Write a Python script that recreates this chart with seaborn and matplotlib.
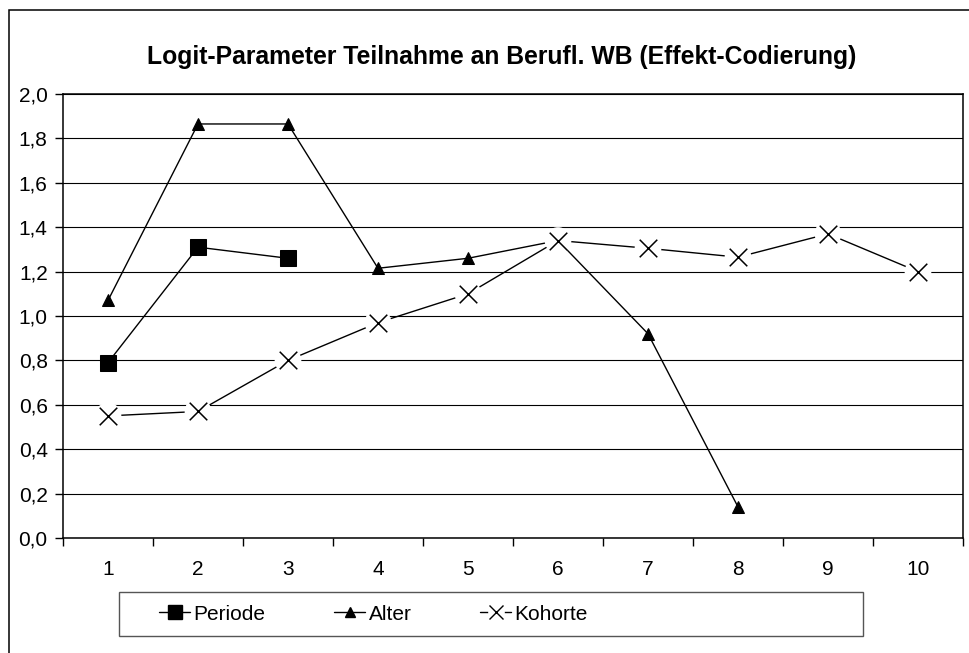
import matplotlib
matplotlib.use("Agg")
import matplotlib.pyplot as plt
from matplotlib.patches import Rectangle
from matplotlib.lines import Line2D
from matplotlib.ticker import FixedLocator, FuncFormatter
import seaborn as sns
import pandas as pd

# ---- data ----
categories = [1, 2, 3, 4, 5, 6, 7, 8, 9, 10]
periode_x = [1, 2, 3]
periode = [0.79, 1.31, 1.26]
alter_x = [1, 2, 3, 4, 5, 6, 7, 8]
alter = [1.07, 1.865, 1.865, 1.215, 1.26, 1.34, 0.92, 0.14]
kohorte_x = categories
kohorte = [0.55, 0.57, 0.80, 0.97, 1.10, 1.34, 1.305, 1.265, 1.37, 1.20]
y_ticks = [0.0, 0.2, 0.4, 0.6, 0.8, 1.0, 1.2, 1.4, 1.6, 1.8, 2.0]
series_names = ["Periode", "Alter", "Kohorte"]
title = "Logit-Parameter Teilnahme an Berufl. WB (Effekt-Codierung)"

sns.set_theme(style="white")
plt.rcParams['font.family'] = ['Liberation Sans', 'DejaVu Sans']

W, H = 970, 653
fig = plt.figure(figsize=(W / 100, H / 100), dpi=100)
fig.patch.set_facecolor("white")
ax = fig.add_axes([63 / W, 1 - 538 / H, 900 / W, 444 / H])
ax.set_facecolor("white")

# outer border
fig.patches.append(Rectangle((9 / W, -0.05), 1.2, 1 - 10 / H + 0.05,
                             transform=fig.transFigure, fill=False,
                             edgecolor="black", linewidth=1.1, zorder=0))

df_p = pd.DataFrame({"x": periode_x, "y": periode})
df_a = pd.DataFrame({"x": alter_x, "y": alter})
df_k = pd.DataFrame({"x": kohorte_x, "y": kohorte})

LW = 1.0
sns.lineplot(data=df_p, x="x", y="y", ax=ax, color="black", linewidth=LW,
             marker="s", markersize=12, markeredgecolor="black",
             markerfacecolor="black", zorder=3)
sns.lineplot(data=df_a, x="x", y="y", ax=ax, color="black", linewidth=LW,
             marker="^", markersize=8, markeredgecolor="black",
             markerfacecolor="black", zorder=3)
sns.lineplot(data=df_k, x="x", y="y", ax=ax, color="black", linewidth=LW,
             zorder=3)
# white halo behind X markers (Excel style gaps)
sns.scatterplot(data=df_k, x="x", y="y", ax=ax, marker="o", s=370,
                color="white", edgecolor="none", zorder=4, legend=False)
sns.scatterplot(data=df_k, x="x", y="y", ax=ax, marker="x", s=160,
                color="black", linewidth=1.1, zorder=5, legend=False)

ax.set_xlim(0.5, 10.5)
ax.set_ylim(0, 2.0)
ax.set_xlabel("")
ax.set_ylabel("")

ax.yaxis.set_major_locator(FixedLocator(y_ticks))
ax.yaxis.set_major_formatter(FuncFormatter(lambda v, p: f"{v:.1f}".replace(".", ",")))
ax.set_xticks(categories)
ax.set_xticklabels([str(c) for c in categories])
ax.xaxis.set_minor_locator(FixedLocator([c + 0.5 for c in [0] + categories]))

ax.tick_params(axis="y", which="major", direction="out", length=6, width=1,
               color="black", labelsize=15, pad=5, left=True, labelcolor="black")
ax.tick_params(axis="x", which="major", length=0, labelsize=15, pad=16,
               bottom=True, labelcolor="black")
ax.tick_params(axis="x", which="minor", direction="out", length=6, width=1,
               color="black", bottom=True)

ax.grid(axis="y", color="black", linewidth=0.8, zorder=0)
ax.set_axisbelow(True)
for s in ax.spines.values():
    s.set_visible(True)
    s.set_color("black")
    s.set_linewidth(1.1)

fig.text(502 / W, 1 - 57 / H, title, ha="center", va="center",
         fontsize=17.8, fontweight="bold", color="black")

# legend box (drawn separately, Excel style)
fig.patches.append(Rectangle((119 / W, 1 - 636 / H), 744 / W, 44 / H,
                             transform=fig.transFigure, fill=False,
                             edgecolor="#555555", linewidth=1.0, zorder=1))
h_p = Line2D([], [], color="black", linewidth=LW, marker="s", markersize=10)
h_a = Line2D([], [], color="black", linewidth=LW, marker="^", markersize=7)
h_k_line = Line2D([], [], color="black", linewidth=LW)
h_k_halo = Line2D([], [], linestyle="none", marker="o", markersize=12,
                  markerfacecolor="white", markeredgecolor="none")
h_k_x = Line2D([], [], linestyle="none", marker="x", markersize=10,
               markeredgewidth=1.0, color="black")
leg = fig.legend([h_p, h_a, (h_k_line, h_k_halo, h_k_x)], series_names,
                 loc="center left", bbox_to_anchor=(159 / W, 1 - 614 / H),
                 ncol=3, frameon=False, fontsize=15, handlelength=1.5,
                 handletextpad=0.15, columnspacing=3.3, borderpad=0,
                 borderaxespad=0)
for t in leg.get_texts():
    t.set_color("black")

fig.savefig("out.png", dpi=100, facecolor="white")
